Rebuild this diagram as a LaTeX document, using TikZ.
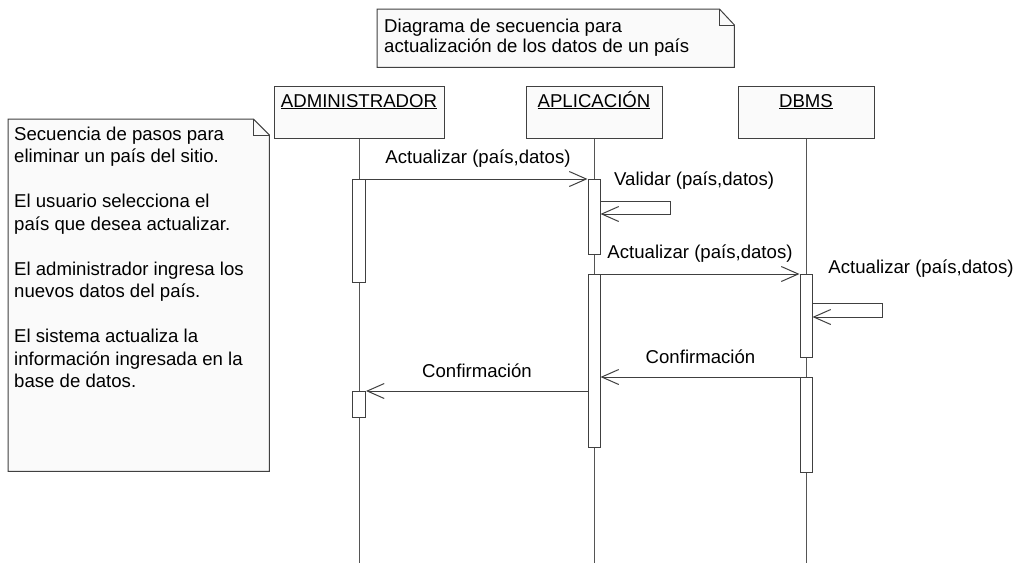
\documentclass[tikz,border=0pt]{standalone}
\usepackage{fontspec}
\setmainfont{Liberation Sans}
\usetikzlibrary{arrows.meta}
\definecolor{ln}{HTML}{404040}
\definecolor{lf}{HTML}{555555}
\definecolor{nf}{HTML}{FAFAFA}
\begin{document}
\begin{tikzpicture}[x=1pt,y=-1pt,
  txt/.style={inner sep=0pt,font=\fontsize{18.6}{22.5}\selectfont,text=black},
  frame/.style={draw=ln,line width=1pt,fill=nf},
  objbox/.style={draw=ln,line width=1pt,fill=nf,minimum height=52pt,inner sep=0pt,anchor=north},
  bar/.style={draw=ln,line width=1pt,fill=white,minimum width=12pt,inner sep=0pt,anchor=north},
  lifeline/.style={draw=lf,line width=0.9pt},
  msg/.style={draw=ln,line width=1pt,-{Straight Barb[length=17pt,width=15pt]}},
  holder/.style={inner sep=0pt,anchor=north west}]
\useasboundingbox[fill=white] (0,0) rectangle (1017,563);

% ---- top note
\node[holder,minimum width=357pt,minimum height=58pt] (tn) at (377,9) {};
\draw[frame] (tn.south west) -- (tn.north west) -- ([xshift=-15pt]tn.north east)
  -- ([yshift=-16pt]tn.north east) -- (tn.south east) -- cycle;
\draw[draw=ln,line width=1pt] ([xshift=-15pt]tn.north east) |- ([yshift=-16pt]tn.north east);
\node[txt,anchor=base west] (tn1) at (384,32) {Diagrama de secuencia para};
\node[txt,anchor=base west] (tn2) at (384,52) {actualización de los datos de un país};

% ---- left note
\node[holder,minimum width=261pt,minimum height=352pt] (ln) at (8,119) {};
\draw[frame] (ln.south west) -- (ln.north west) -- ([xshift=-16pt]ln.north east)
  -- ([yshift=-16pt]ln.north east) -- (ln.south east) -- cycle;
\draw[draw=ln,line width=1pt] ([xshift=-16pt]ln.north east) |- ([yshift=-16pt]ln.north east);
\foreach \t/\y [count=\i] in {
  Secuencia de pasos para/140,
  eliminar un país del sitio./162.5,
  El usuario selecciona el/207.5,
  país que desea actualizar./230,
  El administrador ingresa los/275,
  nuevos datos del país./297.5,
  El sistema actualiza la/342.5,
  información ingresada en la/365,
  base de datos./387.5}
  \node[txt,anchor=base west] (L\i) at (14,\y) {\t};

% ---- objects
\node[objbox,minimum width=170pt] (admin) at (359,86) {};
\node[objbox,minimum width=136pt] (app) at (594,86) {};
\node[objbox,minimum width=136pt] (dbms) at (806,86) {};
\node[txt,anchor=base] (adminl) at (359,107) {\underline{ADMINISTRADOR}};
\node[txt,anchor=base] (appl) at (594,107) {\underline{APLICACIÓN}};
\node[txt,anchor=base] (dbmsl) at (806,107) {\underline{DBMS}};

% ---- lifelines
\coordinate (ea) at (359,563);
\coordinate (ep) at (594,563);
\coordinate (ed) at (806,563);
\draw[lifeline] (admin.south) -- (ea);
\draw[lifeline] (app.south) -- (ep);
\draw[lifeline] (dbms.south) -- (ed);

% ---- activation bars
\node[bar,minimum width=13pt,minimum height=103pt] (a1) at (359,179) {};
\node[bar,minimum width=13pt,minimum height=26pt] (a2) at (359,391) {};
\node[bar,minimum height=75pt] (p1) at (594,179) {};
\node[bar,minimum height=173pt] (p2) at (594,274) {};
\node[bar,minimum height=83pt] (d1) at (806,274) {};
\node[bar,minimum height=95pt] (d2) at (806,377) {};

% ---- messages
\draw[msg] (a1.north east) -- (p1.north west);
\node[txt] (m1) at (478,159) {Actualizar (país,datos)};

\coordinate (v1) at (670,201);
\coordinate (v2) at (670,214);
\draw[msg] (p1.east |- v1) -- (v1) -- (v2) -- (p1.east |- v2);
\node[txt,anchor=west] (m2) at (614,181) {Validar (país,datos)};

\draw[msg] (p2.north east) -- (d1.north west);
\node[txt] (m3) at (700,254) {Actualizar (país,datos)};

\coordinate (w1) at (882,303);
\coordinate (w2) at (882,317);
\draw[msg] (d1.east |- w1) -- (w1) -- (w2) -- (d1.east |- w2);
\node[txt] (m4) at (921,269) {Actualizar (país,datos)};

\draw[msg] (d2.north west) -- (p2.east |- d2.north);
\node[txt] (m5) at (700.5,357) {Confirmación};

\draw[msg] (p2.west |- a2.north) -- (a2.north east);
\node[txt] (m6) at (477,371) {Confirmación};
\end{tikzpicture}
\end{document}
